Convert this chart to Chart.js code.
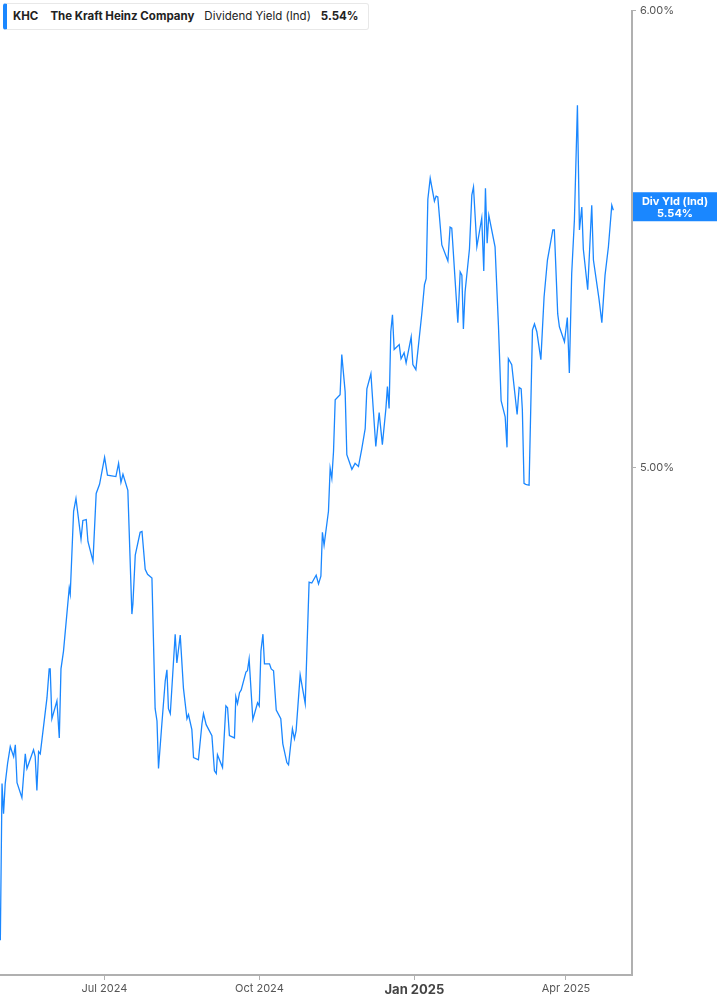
<!DOCTYPE html>
<html>
<head>
<meta charset="utf-8">
<script src="https://cdn.jsdelivr.net/npm/chart.js@4.4.1/dist/chart.umd.min.js"></script>
<style>
  body { margin: 0; background: #fff; font-family: Inter, "Noto Sans", sans-serif; }
  #wrap { position: relative; width: 717px; height: 1005px; }
  #legend {
    position: absolute; left: 3px; top: 3px; height: 27px; width: 366px;
    box-sizing: border-box; border: 1px solid #e8e8e8; border-left: 4px solid #1a87ff;
    border-radius: 3px; background: #fff; font-size: 11.5px; line-height: 25px; color: #222;
    padding-left: 6px; white-space: nowrap;
  }
  #legend span { margin-right: 10px; }
  #legend span:first-child { margin-right: 12px; }
  #legend .b { font-weight: 700; }
</style>
</head>
<body>
<div id="wrap">
  <canvas id="myChart"></canvas>
  <div id="legend"><span class="b">KHC</span><span class="b">The Kraft Heinz Company</span><span>Dividend Yield (Ind)</span><span class="b">5.54%</span></div>
</div>
<script>
// days counted from 1 Jul 2024, dividend yield in %
const days = [
  -61.8, -60.8, -59.9, -58.9, -57.5, -55.9, -53.9, -52.9, -51.9, -49.0, -47.0, -46.0, -42.1, -41.1, -40.1, -39.1, -38.1,
  -34.1, -32.8, -32.2, -31.2, -28.2, -26.8, -25.8, -24.3, -20.9, -20.3, -18.3, -16.9, -13.9, -12.8, -10.8, -9.8, -6.8,
  -4.9, -2.9, 0.1, 1.8, 6.8, 8.4, 9.8, 11.0, 13.9, 16.3, 16.9, 18.3, 21.2, 22.3, 24.2, 25.6, 28.2, 30.1, 31.2, 32.1,
  34.1, 36.1, 37.1, 38.0, 39.1, 42.0, 43.0, 45.0, 46.9, 49.0, 49.9, 51.9, 52.9, 55.8, 57.9, 58.8, 60.4, 63.8, 65.3,
  66.4, 67.1, 70.1, 72.1, 73.1, 74.2, 77.2, 78.0, 79.0, 80.2, 81.2, 84.0, 84.9, 85.9, 88.1, 90.9, 91.9, 92.9, 94.1,
  95.0, 98.0, 99.0, 100.4, 102.0, 104.7, 105.9, 108.3, 109.3, 111.6, 112.8, 113.8, 116.2, 119.2, 121.5, 123.1, 125.7,
  127.1, 128.5, 129.4, 130.4, 133.0, 134.0, 135.0, 136.0, 137.0, 139.9, 140.9, 142.9, 143.9, 146.9, 148.8, 150.8,
  152.8, 154.8, 155.8, 158.2, 159.7, 161.1, 163.1, 165.0, 167.1, 168.0, 169.0, 170.0, 171.0, 172.0, 175.0, 176.1,
  177.9, 179.1, 182.1, 183.1, 184.9, 188.4, 190.0, 191.0, 192.0, 193.4, 195.9, 196.9, 197.9, 200.3, 203.9, 205.2,
  206.2, 209.8, 211.2, 212.2, 213.1, 214.1, 216.7, 218.1, 219.1, 221.1, 224.0, 225.2, 226.2, 227.2, 228.2, 231.9,
  233.9, 235.5, 237.9, 239.0, 239.8, 241.8, 245.0, 246.2, 247.4, 248.1, 249.1, 250.1, 252.1, 254.1, 255.3, 256.7,
  259.1, 261.0, 263.0, 266.2, 267.1, 269.1, 270.1, 273.1, 274.8, 276.0, 277.4, 279.0, 280.8, 282.0, 283.4, 284.3,
  286.9, 289.3, 290.3, 293.6, 295.3, 297.2, 299.2, 301.2, 302.1
];
const yields = [
  3.965, 4.308, 4.242, 4.308, 4.352, 4.389, 4.367, 4.393, 4.310, 4.277, 4.373, 4.341, 4.382, 4.367, 4.293, 4.378, 4.373,
  4.496, 4.559, 4.559, 4.450, 4.489, 4.408, 4.559, 4.598, 4.736, 4.723, 4.904, 4.932, 4.843, 4.884, 4.886, 4.838, 4.795,
  4.943, 4.963, 5.022, 4.983, 4.980, 5.009, 4.967, 4.985, 4.950, 4.679, 4.701, 4.808, 4.858, 4.860, 4.777, 4.766, 4.758, 4.472, 4.445, 4.341,
  4.439, 4.533, 4.557, 4.472, 4.461, 4.635, 4.572, 4.633, 4.517, 4.450, 4.459, 4.426, 4.365, 4.360, 4.439, 4.461, 4.437, 4.413, 4.336,
  4.330, 4.371, 4.343, 4.478, 4.474, 4.413, 4.408, 4.498, 4.483, 4.507, 4.513, 4.552, 4.555, 4.581, 4.448, 4.485, 4.478, 4.598, 4.635,
  4.570, 4.570, 4.559, 4.555, 4.469, 4.450, 4.395, 4.354, 4.349, 4.428, 4.406, 4.424, 4.546, 4.483, 4.749, 4.747, 4.764,
  4.745, 4.762, 4.858, 4.830, 4.904, 4.998, 4.976, 5.035, 5.148, 5.159, 5.247, 5.166, 5.028, 4.996, 5.009,
  5.002, 5.041, 5.085, 5.172, 5.205, 5.122, 5.046, 5.120, 5.050, 5.129, 5.177, 5.129, 5.297, 5.334, 5.258, 5.269,
  5.238, 5.251, 5.229, 5.286, 5.225, 5.214, 5.336, 5.400, 5.413, 5.587, 5.633, 5.583, 5.594, 5.592, 5.487, 5.452,
  5.526, 5.524, 5.317, 5.428, 5.421, 5.303, 5.384, 5.478, 5.596, 5.614, 5.483, 5.546, 5.430, 5.611, 5.491, 5.552,
  5.483, 5.312, 5.146, 5.111, 5.044, 5.238, 5.225, 5.116, 5.175, 5.172, 5.127, 4.965, 4.963, 4.961, 5.301, 5.314,
  5.297, 5.236, 5.373, 5.454, 5.520, 5.520, 5.336, 5.308, 5.275, 5.328, 5.207, 5.424, 5.541, 5.793, 5.520, 5.570,
  5.478, 5.389, 5.574, 5.454, 5.369, 5.317, 5.421, 5.483, 5.574, 5.563
];
const tickDays = [0, 92, 184, 274];
const tickLabels = ["Jul 2024", "Oct 2024", "Jan 2025", "Apr 2025"];
const yTicks = [5, 6];
const lastLabel = ["Div Yld (Ind)", "5.54%"];

const lineColor = "#1a87ff";
const axisColor = "#b0b0b0";

const lastValueTag = {
  id: "lastValueTag",
  afterDraw(chart) {
    const ctx = chart.ctx;
    const yScale = chart.scales.y;
    const y = yScale.getPixelForValue(yields[yields.length - 1]) - 3;
    const left = chart.chartArea.right + 1;
    ctx.save();
    ctx.fillStyle = lineColor;
    ctx.fillRect(left, y - 15, chart.width - left, 29);
    ctx.fillStyle = "#fff";
    ctx.font = "bold 11px Inter, 'Noto Sans', sans-serif";
    ctx.textAlign = "center";
    ctx.textBaseline = "middle";
    const cx = left + (chart.width - left) / 2;
    ctx.fillText(lastLabel[0], cx, y - 6);
    ctx.fillText(lastLabel[1], cx, y + 6);
    ctx.restore();
  }
};

const data = {
  datasets: [
    {
      label: "Dividend Yield (Ind)",
      data: days.map((d, i) => ({ x: d, y: yields[i] })),
      borderColor: lineColor,
      borderWidth: 1.3,
      pointRadius: 0,
      tension: 0,
      fill: false,
    },
  ],
};

const config = {
  type: "line",
  data,
  plugins: [lastValueTag],
  options: {
    responsive: true,
    maintainAspectRatio: false,
    animation: false,
    layout: { padding: 0 },
    plugins: { legend: { display: false }, tooltip: { enabled: false } },
    scales: {
      x: {
        type: "linear",
        min: -62,
        max: 313.2,
        afterBuildTicks: (scale) => { scale.ticks = tickDays.map((v) => ({ value: v })); },
        afterFit: (scale) => { scale.height = 30; },
        ticks: {
          autoSkip: false,
          maxRotation: 0,
          padding: 2,
          color: (c) => (c.tick && c.tick.value === 184 ? "#444" : "#555"),
          font: (c) => (c.tick && c.tick.value === 184
            ? { family: "Inter", size: 13, weight: "bold" }
            : { family: "Inter", size: 11 }),
          callback: (v) => tickLabels[tickDays.indexOf(v)],
        },
        grid: { drawOnChartArea: false, drawTicks: true, tickLength: 5, color: axisColor },
        border: { display: true, color: axisColor, width: 2 },
      },
      y: {
        type: "linear",
        position: "right",
        min: 3.889,
        max: 6.0,
        afterBuildTicks: (scale) => { scale.ticks = yTicks.map((v) => ({ value: v })); },
        afterFit: (scale) => { scale.width = 85; },
        ticks: {
          padding: 4,
          color: "#555",
          font: { family: "Inter", size: 11 },
          callback: (v) => v.toFixed(2) + "%",
        },
        grid: { drawOnChartArea: false, drawTicks: true, tickLength: 4, color: axisColor },
        border: { display: true, color: axisColor, width: 2 },
      },
    },
  },
};

var myChart = new Chart(document.getElementById("myChart"), config);
</script>
</body>
</html>
